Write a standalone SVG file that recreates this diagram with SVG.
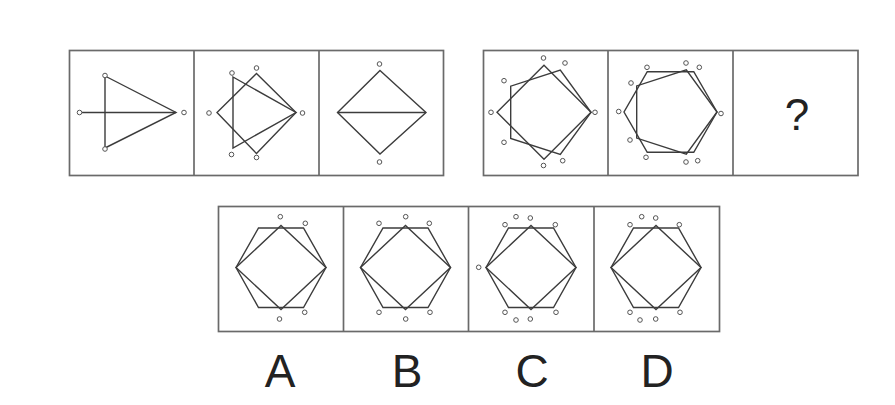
<svg xmlns="http://www.w3.org/2000/svg" width="895" height="405" viewBox="0 0 895 405">
<style>
.box{fill:none;stroke:#6a6a6a;stroke-width:1.7}
.ln{fill:none;stroke:#3c3c3c;stroke-width:1.4;stroke-linejoin:miter}
.dot{fill:#fff;stroke:#555;stroke-width:1}
.lbl{font-family:"Liberation Sans",Arial,sans-serif;fill:#222;text-anchor:middle}
</style>
<rect width="895" height="405" fill="#fff"/>

<!-- frames -->
<g id="frames">
<rect class="box" x="69.5" y="50.5" width="374" height="125"/>
<line class="box" x1="194" y1="50.5" x2="194" y2="175.5"/>
<line class="box" x1="319" y1="50.5" x2="319" y2="175.5"/>
<rect class="box" x="483.5" y="50.5" width="374.5" height="125"/>
<line class="box" x1="608" y1="50.5" x2="608" y2="175.5"/>
<line class="box" x1="733" y1="50.5" x2="733" y2="175.5"/>
<rect class="box" x="218.5" y="206.5" width="501" height="125"/>
<line class="box" x1="343.5" y1="206.5" x2="343.5" y2="331.5"/>
<line class="box" x1="468.5" y1="206.5" x2="468.5" y2="331.5"/>
<line class="box" x1="594" y1="206.5" x2="594" y2="331.5"/>
</g>

<!-- panel 1 -->
<g id="p1">
<polygon class="ln" points="105,76 176,112.5 105,148"/>
<line class="ln" x1="82" y1="112.5" x2="176" y2="112.5"/>
<circle class="dot" cx="105" cy="75.5" r="2.3"/>
<circle class="dot" cx="105" cy="149" r="2.3"/>
<circle class="dot" cx="79.5" cy="112.5" r="2.3"/>
<circle class="dot" cx="184" cy="112.5" r="2.3"/>
</g>

<!-- panel 2 -->
<g id="p2">
<polygon class="ln" points="256.5,73.5 296,112.5 256.5,153.5 217,112.5"/>
<polygon class="ln" points="233,77 296,112.5 233,148"/>
<circle class="dot" cx="232" cy="73" r="2.3"/>
<circle class="dot" cx="256.5" cy="68" r="2.3"/>
<circle class="dot" cx="209" cy="113" r="2.3"/>
<circle class="dot" cx="302.5" cy="113" r="2.3"/>
<circle class="dot" cx="231.5" cy="154.5" r="2.3"/>
<circle class="dot" cx="256.5" cy="157.5" r="2.3"/>
</g>

<!-- panel 3 -->
<g id="p3">
<polygon class="ln" points="380,70.5 426,112.5 380,154 337.5,112.5"/>
<line class="ln" x1="337.5" y1="112.5" x2="426" y2="112.5"/>
<circle class="dot" cx="379.5" cy="64" r="2.3"/>
<circle class="dot" cx="379.5" cy="162" r="2.3"/>
</g>

<!-- panel 4 -->
<g id="p4">
<polygon class="ln" points="544,65.3 591,112.3 544,159.3 497,112.3"/>
<polygon class="ln" points="591,112.3 560.3,154.5 510.7,138.4 510.7,86.2 560.3,70.1"/>
<circle class="dot" cx="543.5" cy="58" r="2.3"/>
<circle class="dot" cx="565" cy="63" r="2.3"/>
<circle class="dot" cx="504" cy="80.7" r="2.3"/>
<circle class="dot" cx="491" cy="112.3" r="2.3"/>
<circle class="dot" cx="595" cy="112.3" r="2.3"/>
<circle class="dot" cx="504" cy="142.3" r="2.3"/>
<circle class="dot" cx="543.5" cy="165.5" r="2.3"/>
<circle class="dot" cx="562.7" cy="160.7" r="2.3"/>
</g>

<!-- panel 5 -->
<g id="p5">
<polygon class="ln" points="717,112 693.75,152.3 647.25,152.3 624,112 647.25,71.7 693.75,71.7"/>
<polygon class="ln" points="717,112 686.3,154.2 636.7,138.1 636.7,85.9 686.3,69.8"/>
<circle class="dot" cx="647" cy="67.3" r="2.3"/>
<circle class="dot" cx="686" cy="63" r="2.3"/>
<circle class="dot" cx="699.3" cy="67.3" r="2.3"/>
<circle class="dot" cx="631" cy="83" r="2.3"/>
<circle class="dot" cx="618.7" cy="111.5" r="2.3"/>
<circle class="dot" cx="721" cy="113.5" r="2.3"/>
<circle class="dot" cx="630" cy="140" r="2.3"/>
<circle class="dot" cx="646" cy="157.3" r="2.3"/>
<circle class="dot" cx="686" cy="162" r="2.3"/>
<circle class="dot" cx="697.7" cy="160.7" r="2.3"/>
</g>

<!-- panel 6 -->
<g id="p6">
<text class="lbl" x="797" y="130" font-size="44">?</text>
</g>

<!-- option A -->
<g id="optA">
<polygon class="ln" points="236,267.5 258.5,228 303.5,228 326,267.5 303.5,307.5 258.5,307.5"/>
<polygon class="ln" points="236,267.5 281,225.5 326,267.5 281,309.5"/>
<circle class="dot" cx="280.3" cy="216.7" r="2.3"/>
<circle class="dot" cx="305.3" cy="223.3" r="2.3"/>
<circle class="dot" cx="279.5" cy="319" r="2.3"/>
<circle class="dot" cx="304.7" cy="312.3" r="2.3"/>
</g>

<!-- option B -->
<g id="optB">
<polygon class="ln" points="360.5,267.5 383,228 428,228 450.5,267.5 428,307.5 383,307.5"/>
<polygon class="ln" points="360.5,267.5 405.5,225.5 450.5,267.5 405.5,309.5"/>
<circle class="dot" cx="379" cy="223.3" r="2.3"/>
<circle class="dot" cx="405.7" cy="216.7" r="2.3"/>
<circle class="dot" cx="429.3" cy="223.3" r="2.3"/>
<circle class="dot" cx="379" cy="312.3" r="2.3"/>
<circle class="dot" cx="405.7" cy="319" r="2.3"/>
<circle class="dot" cx="430" cy="312.3" r="2.3"/>
</g>

<!-- option C -->
<g id="optC">
<polygon class="ln" points="486,267.5 508.5,228 553.5,228 576,267.5 553.5,307.5 508.5,307.5"/>
<polygon class="ln" points="486,267.5 531,225.5 576,267.5 531,309.5"/>
<circle class="dot" cx="516" cy="216.7" r="2.3"/>
<circle class="dot" cx="530.3" cy="218" r="2.3"/>
<circle class="dot" cx="505" cy="224.7" r="2.3"/>
<circle class="dot" cx="555.3" cy="224.7" r="2.3"/>
<circle class="dot" cx="478.7" cy="267.3" r="2.3"/>
<circle class="dot" cx="505" cy="312.3" r="2.3"/>
<circle class="dot" cx="516" cy="320" r="2.3"/>
<circle class="dot" cx="530.3" cy="319" r="2.3"/>
<circle class="dot" cx="556" cy="312.3" r="2.3"/>
</g>

<!-- option D -->
<g id="optD">
<polygon class="ln" points="611,267.5 633.5,228 678.5,228 701,267.5 678.5,307.5 633.5,307.5"/>
<polygon class="ln" points="611,267.5 656,225.5 701,267.5 656,309.5"/>
<circle class="dot" cx="641.7" cy="216.7" r="2.3"/>
<circle class="dot" cx="655.7" cy="218" r="2.3"/>
<circle class="dot" cx="630" cy="224.7" r="2.3"/>
<circle class="dot" cx="679.3" cy="224.7" r="2.3"/>
<circle class="dot" cx="630" cy="312.3" r="2.3"/>
<circle class="dot" cx="640" cy="320" r="2.3"/>
<circle class="dot" cx="655.7" cy="319" r="2.3"/>
<circle class="dot" cx="680" cy="312.3" r="2.3"/>
</g>

<!-- labels -->
<g id="labels" font-size="46">
<text class="lbl" x="280" y="387">A</text>
<text class="lbl" x="407" y="387">B</text>
<text class="lbl" x="532" y="387">C</text>
<text class="lbl" x="657" y="387">D</text>
</g>
</svg>
